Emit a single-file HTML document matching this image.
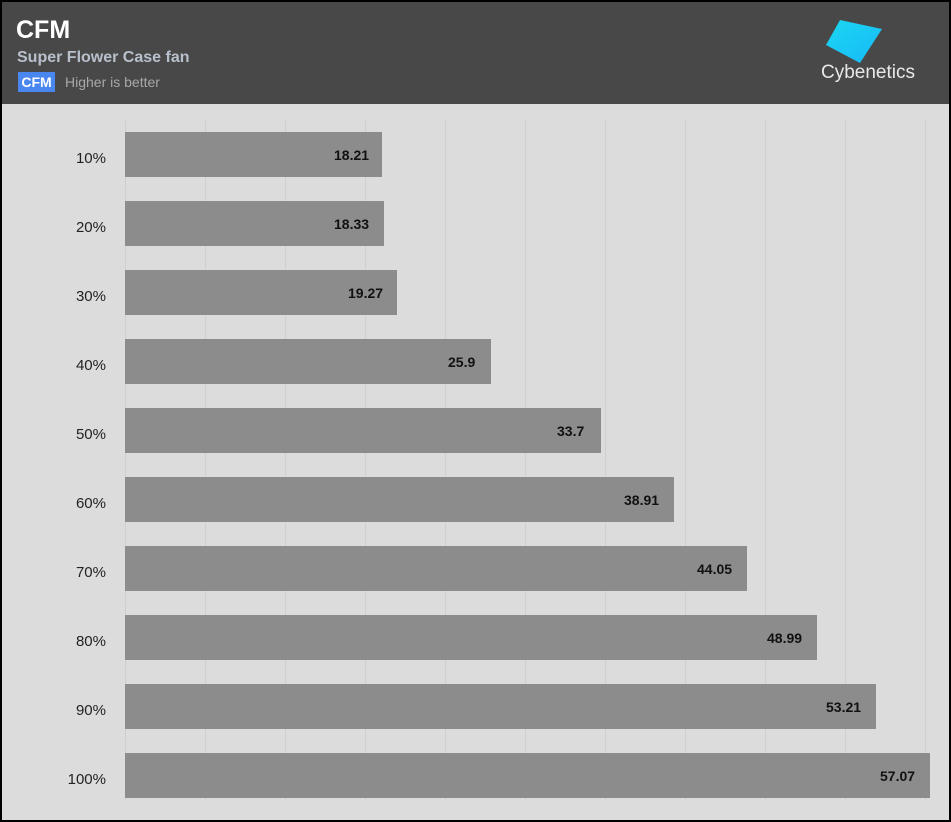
<!DOCTYPE html>
<html><head><style>
html,body{margin:0;padding:0;}
body{width:951px;height:822px;position:relative;background:#000;font-family:"Liberation Sans",sans-serif;overflow:hidden;}
#main{position:absolute;left:2px;top:2px;width:947px;height:818px;background:#dcdcdc;}
#hdr{position:absolute;left:2px;top:2px;width:947px;height:102px;background:#484848;}
.t{position:absolute;white-space:nowrap;}
.g{position:absolute;top:120px;height:680px;width:1px;background:#cfcfcf;}
.bar{position:absolute;left:125px;height:45px;background:#8c8c8c;}
.v{position:absolute;font-weight:bold;font-size:14px;color:#111;}
.lab{position:absolute;width:106px;left:0;text-align:right;font-size:15px;color:#222;}
</style></head><body>
<div id="main"></div>
<div id="hdr"></div>
<div class="t" style="left:16px;top:16px;font-size:25px;font-weight:bold;color:#fff;">CFM</div>
<div class="t" style="left:17px;top:49px;font-size:16px;font-weight:bold;color:#b8c0cc;">Super Flower Case fan</div>
<div class="t" style="left:18px;top:72px;width:37px;height:20px;background:#4a86f0;color:#fff;font-size:14px;font-weight:bold;text-align:center;line-height:20px;">CFM</div>
<div class="t" style="left:65px;top:74px;font-size:14px;color:#a8a8a8;">Higher is better</div>
<svg style="position:absolute;left:800px;top:0" width="150" height="100">
<defs><linearGradient id="lg" x1="0" y1="0" x2="1" y2="1"><stop offset="0" stop-color="#1ad8f0"/><stop offset="1" stop-color="#18b8f8"/></linearGradient></defs>
<polygon points="40,20 82,29 60,63 26,45" fill="url(#lg)"/>
<text x="21" y="78" font-family="Liberation Sans,sans-serif" font-size="19" fill="#e8e8e8">Cybenetics</text>
</svg>
<div class="g" style="left:125px"></div><div class="g" style="left:205px"></div><div class="g" style="left:285px"></div><div class="g" style="left:365px"></div><div class="g" style="left:445px"></div><div class="g" style="left:525px"></div><div class="g" style="left:605px"></div><div class="g" style="left:685px"></div><div class="g" style="left:765px"></div><div class="g" style="left:845px"></div><div class="g" style="left:925px"></div>

<div class="bar" style="top:132px;width:257px"></div><div class="v" style="left:334px;top:147px">18.21</div><div class="lab" style="top:150px">10%</div>
<div class="bar" style="top:201px;width:259px"></div><div class="v" style="left:334px;top:216px">18.33</div><div class="lab" style="top:219px">20%</div>
<div class="bar" style="top:270px;width:272px"></div><div class="v" style="left:348px;top:285px">19.27</div><div class="lab" style="top:288px">30%</div>
<div class="bar" style="top:339px;width:366px"></div><div class="v" style="left:448px;top:354px">25.9</div><div class="lab" style="top:357px">40%</div>
<div class="bar" style="top:408px;width:476px"></div><div class="v" style="left:557px;top:423px">33.7</div><div class="lab" style="top:426px">50%</div>
<div class="bar" style="top:477px;width:549px"></div><div class="v" style="left:624px;top:492px">38.91</div><div class="lab" style="top:495px">60%</div>
<div class="bar" style="top:546px;width:622px"></div><div class="v" style="left:697px;top:561px">44.05</div><div class="lab" style="top:564px">70%</div>
<div class="bar" style="top:615px;width:692px"></div><div class="v" style="left:767px;top:630px">48.99</div><div class="lab" style="top:633px">80%</div>
<div class="bar" style="top:684px;width:751px"></div><div class="v" style="left:826px;top:699px">53.21</div><div class="lab" style="top:702px">90%</div>
<div class="bar" style="top:753px;width:805px"></div><div class="v" style="left:880px;top:768px">57.07</div><div class="lab" style="top:771px">100%</div>
</body></html>
